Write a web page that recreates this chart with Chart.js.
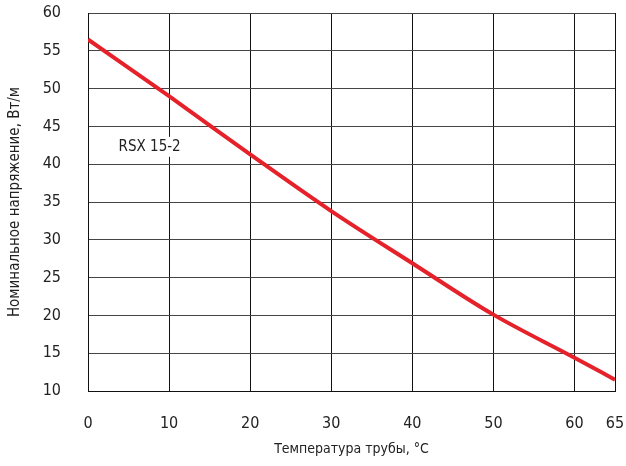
<!DOCTYPE html>
<html>
<head>
<meta charset="utf-8">
<script src="https://cdn.jsdelivr.net/npm/chart.js@4"></script>
<style>
  html, body { margin: 0; padding: 0; background: #fff; }
  #wrap { width: 626px; height: 466px; }
</style>
</head>
<body>
<div id="wrap"><canvas id="chart" width="626" height="466"></canvas></div>
<script>
// Data
const temps = [0, 10, 20, 30, 40, 50, 60, 65];
const power = [56.5, 49.0, 41.3, 33.8, 26.9, 20.1, 14.4, 11.5];
const xTicks = [0, 10, 20, 30, 40, 50, 60, 65];
const seriesName = 'RSX 15-2';
const labelAt = { x: 7.6, y: 42.3 };

const FONT = "'Liberation Sans Narrow', 'DejaVu Sans Condensed', sans-serif";

// Text label on the plot with a white box behind it
const seriesLabel = {
  id: 'seriesLabel',
  afterDatasetsDraw(chart) {
    const ctx = chart.ctx;
    const x = chart.scales.x.getPixelForValue(labelAt.x);
    const y = chart.scales.y.getPixelForValue(labelAt.y);
    ctx.save();
    ctx.font = '15px ' + FONT;
    const w = ctx.measureText(seriesName).width;
    ctx.fillStyle = '#fff';
    ctx.fillRect(x - w / 2 - 3, y - 10, w + 6, 20);
    ctx.fillStyle = '#222';
    ctx.textAlign = 'center';
    ctx.textBaseline = 'middle';
    ctx.fillText(seriesName, x, y);
    ctx.restore();
  }
};

new Chart(document.getElementById('chart'), {
  type: 'line',
  data: {
    datasets: [{
      label: seriesName,
      data: temps.map((t, i) => ({ x: t, y: power[i] })),
      borderColor: '#e5212a',
      borderWidth: 4,
      pointRadius: 0,
      cubicInterpolationMode: 'monotone',
      fill: false
    }]
  },
  options: {
    responsive: false,
    animation: false,
    layout: { padding: { left: 6, right: 11, top: 13, bottom: 4 } },
    plugins: { legend: { display: false }, tooltip: { enabled: false } },
    scales: {
      x: {
        type: 'linear',
        min: 0,
        max: 65,
        afterBuildTicks: (scale) => { scale.ticks = xTicks.map(v => ({ value: v })); },
        afterFit: (scale) => {
          scale.height = 71;
          scale.paddingLeft = 0;
          scale.paddingRight = 0;
        },
        grid: { color: '#111', lineWidth: 1, drawTicks: false },
        border: { color: '#111' },
        ticks: { padding: 23, color: '#222', font: { family: FONT, size: 16 }, autoSkip: false, maxRotation: 0 },
        title: { display: true, text: 'Температура трубы, °С', color: '#222', font: { family: FONT, size: 14 }, padding: { top: 6 } }
      },
      y: {
        min: 10,
        max: 60,
        ticks: { stepSize: 5, padding: 27, color: '#222', font: { family: FONT, size: 16 } },
        afterFit: (scale) => {
          scale.width = 82;
          scale.paddingTop = 0;
          scale.paddingBottom = 0;
        },
        grid: { color: '#444', lineWidth: 1, drawTicks: false },
        border: { color: '#111' },
        title: { display: true, text: 'Номинальное напряжение, Вт/м', color: '#222', font: { family: FONT, size: 15 }, padding: { top: 0, bottom: 4 } }
      }
    }
  },
  plugins: [seriesLabel]
});
</script>
</body>
</html>
